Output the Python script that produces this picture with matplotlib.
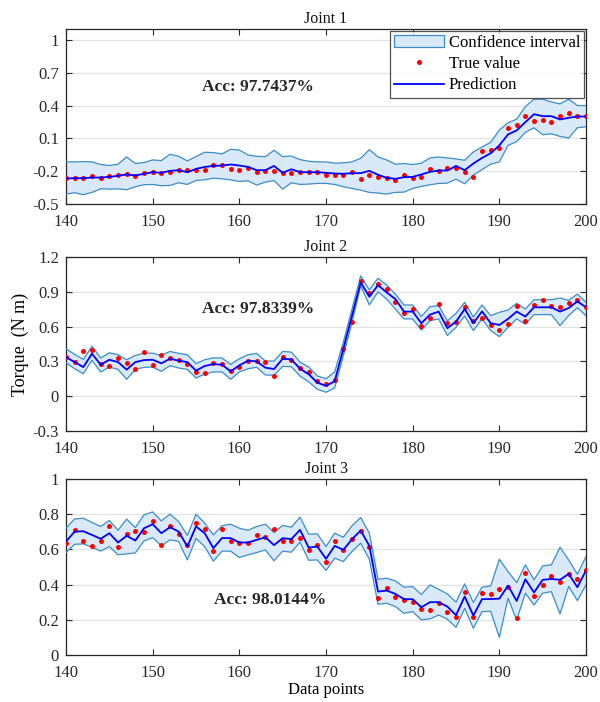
import numpy as np
import matplotlib
matplotlib.use("Agg")
import matplotlib.pyplot as plt
from matplotlib.patches import Patch
from matplotlib.lines import Line2D

plt.rcParams['font.family'] = ['Liberation Serif', 'DejaVu Serif']
plt.rcParams['mathtext.fontset'] = 'stix'

x = np.arange(140, 201)

titles = ["Joint 1", "Joint 2", "Joint 3"]
acc_texts = ["Acc: 97.7437%", "Acc: 97.8339%", "Acc: 98.0144%"]

j1_true = [-0.260,-0.260,-0.258,-0.245,-0.258,-0.245,-0.236,-0.227,-0.245,-0.220,
 -0.210,-0.215,-0.206,-0.188,-0.185,-0.185,-0.185,-0.145,-0.142,-0.180,
 -0.185,-0.173,-0.206,-0.200,-0.197,-0.220,-0.215,-0.210,-0.212,-0.210,
 -0.232,
 -0.239,-0.233,-0.203,-0.273,-0.239,-0.252,-0.264,-0.285,-0.239,-0.258,
 -0.255,-0.182,-0.194,-0.170,-0.167,-0.212,-0.252,-0.018,-0.003,0.012,
 0.194,0.224,0.303,0.255,0.267,0.248,0.309,0.330,0.303,0.300]
j1_pred = [-0.267,-0.264,-0.264,-0.258,-0.258,-0.252,-0.242,-0.230,-0.239,-0.224,
 -0.209,-0.215,-0.197,-0.191,-0.209,-0.179,-0.161,-0.152,-0.148,-0.139,
 -0.148,-0.161,-0.191,-0.191,-0.152,-0.215,-0.182,-0.209,-0.209,-0.209,
 -0.215,
 -0.221,-0.224,-0.218,-0.218,-0.197,-0.233,-0.261,-0.270,-0.255,-0.252,
 -0.230,-0.206,-0.194,-0.194,-0.152,-0.191,-0.130,-0.079,-0.036,0.036,
 0.136,0.173,0.248,0.321,0.303,0.303,0.273,0.288,0.300,0.300]
j1_upper = [-0.115,-0.115,-0.112,-0.115,-0.139,-0.148,-0.136,-0.070,-0.130,-0.121,
 -0.097,-0.103,-0.045,-0.064,-0.106,-0.067,-0.027,-0.030,-0.042,0.000,
 -0.006,-0.052,-0.064,-0.067,-0.009,-0.067,-0.061,-0.094,-0.109,-0.115,
 -0.115,
 -0.127,-0.124,-0.115,-0.082,-0.003,-0.070,-0.097,-0.136,-0.130,-0.139,
 -0.127,-0.079,-0.070,-0.079,-0.088,-0.100,-0.024,0.021,0.064,0.176,
 0.242,0.276,0.391,0.458,0.458,0.433,0.415,0.458,0.400,0.400]
j1_lower = [-0.409,-0.397,-0.415,-0.394,-0.361,-0.364,-0.361,-0.370,-0.342,-0.324,
 -0.321,-0.333,-0.330,-0.306,-0.321,-0.285,-0.279,-0.264,-0.270,-0.279,
 -0.294,-0.288,-0.327,-0.300,-0.285,-0.364,-0.306,-0.321,-0.318,-0.312,
 -0.312,
 -0.321,-0.342,-0.358,-0.373,-0.394,-0.400,-0.409,-0.394,-0.391,-0.358,
 -0.339,-0.324,-0.312,-0.309,-0.273,-0.315,-0.236,-0.185,-0.136,-0.115,
 0.036,0.070,0.155,0.197,0.133,0.142,0.118,0.103,0.197,0.206]

j2_true = [0.334,0.291,0.386,0.397,0.277,0.263,0.329,0.283,0.234,0.383,
 0.271,0.351,0.331,0.309,0.274,0.206,0.203,0.283,0.280,0.214,
 0.254,0.303,0.300,0.297,0.171,0.340,0.311,0.246,0.206,0.131,
 0.103,
 0.137,0.409,0.640,0.989,0.886,0.966,0.920,0.811,0.714,0.749,
 0.603,0.677,0.794,0.629,0.640,0.771,0.649,0.677,0.611,0.574,
 0.620,0.774,0.651,0.789,0.829,0.780,0.771,0.803,0.826,0.766]
j2_pred = [0.337,0.294,0.251,0.366,0.271,0.314,0.294,0.229,0.294,0.311,
 0.314,0.283,0.323,0.306,0.294,0.220,0.260,0.277,0.271,0.214,
 0.266,0.306,0.300,0.246,0.234,0.323,0.317,0.237,0.189,0.117,
 0.089,
 0.129,0.409,0.694,0.980,0.857,0.957,0.894,0.837,0.729,0.729,
 0.629,0.703,0.729,0.586,0.643,0.751,0.629,0.731,0.629,0.614,
 0.666,0.729,0.686,0.766,0.766,0.766,0.729,0.760,0.817,0.766]
j2_upper = [0.409,0.360,0.317,0.431,0.329,0.374,0.357,0.314,0.351,0.371,
 0.371,0.351,0.386,0.369,0.357,0.280,0.314,0.331,0.329,0.274,
 0.323,0.357,0.369,0.303,0.303,0.386,0.380,0.294,0.251,0.174,
 0.151,
 0.209,0.466,0.751,1.037,0.917,1.017,0.957,0.880,0.786,0.786,
 0.686,0.771,0.780,0.649,0.714,0.809,0.683,0.786,0.694,0.723,
 0.743,0.800,0.751,0.831,0.831,0.831,0.846,0.826,0.880,0.809]
j2_lower = [0.289,0.237,0.194,0.309,0.209,0.251,0.231,0.146,0.231,0.249,
 0.251,0.214,0.263,0.243,0.231,0.157,0.191,0.209,0.209,0.146,
 0.209,0.237,0.249,0.183,0.180,0.257,0.254,0.174,0.123,0.060,
 0.034,
 0.071,0.351,0.637,0.951,0.786,0.900,0.837,0.751,0.666,0.666,
 0.569,0.651,0.666,0.523,0.594,0.691,0.566,0.666,0.566,0.514,
 0.594,0.666,0.620,0.703,0.703,0.703,0.609,0.694,0.763,0.694]

j3_true = [0.635,0.711,0.650,0.618,0.645,0.734,0.616,0.686,0.705,0.696,
 0.762,0.624,0.730,0.688,0.626,0.749,0.718,0.588,0.715,0.650,
 0.639,0.635,0.684,0.671,0.715,0.650,0.650,0.664,0.597,0.626,
 0.531,
 0.650,0.597,0.658,0.707,0.612,0.322,0.379,0.332,0.313,0.303,
 0.262,0.256,0.294,0.246,0.218,0.355,0.218,0.351,0.345,0.373,
 0.389,0.209,0.463,0.336,0.396,0.449,0.417,0.461,0.434,0.480]
j3_pred = [0.645,0.701,0.703,0.682,0.660,0.692,0.639,0.677,0.650,0.720,
 0.743,0.692,0.726,0.701,0.616,0.730,0.692,0.607,0.664,0.664,
 0.639,0.639,0.654,0.669,0.624,0.664,0.658,0.711,0.610,0.616,
 0.546,
 0.620,0.597,0.658,0.707,0.620,0.360,0.366,0.347,0.317,0.317,
 0.271,0.300,0.300,0.275,0.226,0.332,0.224,0.317,0.318,0.320,
 0.394,0.307,0.430,0.355,0.427,0.432,0.427,0.461,0.385,0.480]
j3_upper = [0.720,0.773,0.777,0.753,0.730,0.764,0.709,0.772,0.724,0.796,
 0.813,0.762,0.800,0.758,0.679,0.800,0.749,0.682,0.734,0.743,
 0.720,0.709,0.730,0.743,0.696,0.736,0.726,0.783,0.686,0.688,
 0.616,
 0.692,0.669,0.734,0.781,0.692,0.430,0.436,0.421,0.385,0.389,
 0.343,0.398,0.373,0.347,0.300,0.404,0.298,0.385,0.392,0.544,
 0.474,0.411,0.512,0.427,0.506,0.512,0.612,0.540,0.459,0.559]
j3_lower = [0.582,0.629,0.631,0.612,0.590,0.616,0.569,0.574,0.580,0.648,
 0.667,0.620,0.654,0.645,0.540,0.662,0.616,0.533,0.590,0.590,
 0.554,0.569,0.582,0.597,0.535,0.590,0.584,0.641,0.538,0.540,
 0.480,
 0.550,0.531,0.588,0.635,0.544,0.288,0.294,0.275,0.237,0.246,
 0.199,0.205,0.227,0.203,0.157,0.265,0.152,0.246,0.248,0.100,
 0.322,0.199,0.351,0.284,0.351,0.360,0.233,0.389,0.309,0.398]

xticks = [140, 150, 160, 170, 180, 190, 200]
y_ticks = [[-0.5, -0.2, 0.1, 0.4, 0.7, 1.0],
           [-0.3, 0.0, 0.3, 0.6, 0.9, 1.2],
           [0.0, 0.2, 0.4, 0.6, 0.8, 1.0]]
y_ticklabels = [["-0.5", "-0.2", "0.1", "0.4", "0.7", "1"],
                ["-0.3", "0", "0.3", "0.6", "0.9", "1.2"],
                ["0", "0.2", "0.4", "0.6", "0.8", "1"]]
ylims = [(-0.5, 1.1), (-0.3, 1.2), (0.0, 1.0)]
acc_pos = [(162.2, 0.57), (162.2, 0.75), (163.5, 0.31)]

trues = [j1_true, j2_true, j3_true]
preds = [j1_pred, j2_pred, j3_pred]
uppers = [j1_upper, j2_upper, j3_upper]
lowers = [j1_lower, j2_lower, j3_lower]

fill_col = '#dae9f8'
edge_col = '#3a8dc9'
spine_col = '#262626'

fig = plt.figure(figsize=(6.0, 7.02), dpi=100)
rects = [[0.11, 0.7094, 0.8667, 0.2493],
         [0.11, 0.3860, 0.8667, 0.2480],
         [0.11, 0.0670, 0.8667, 0.2507]]

for i in range(3):
    ax = fig.add_axes(rects[i])
    ax.fill_between(x, lowers[i], uppers[i], facecolor=fill_col, edgecolor='none', zorder=2)
    ax.plot(x, uppers[i], color=edge_col, lw=0.9, zorder=3)
    ax.plot(x, lowers[i], color=edge_col, lw=0.9, zorder=3)
    ax.plot(x, trues[i], 'o', color='#ff0000', markersize=3.6, markeredgewidth=0, zorder=4)
    ax.plot(x, preds[i], '-', color='#0000ff', lw=1.3, zorder=5)
    ax.set_xlim(140, 200)
    ax.set_ylim(*ylims[i])
    ax.set_xticks(xticks)
    ax.set_yticks(y_ticks[i])
    ax.set_yticklabels(y_ticklabels[i])
    ax.yaxis.grid(True, color='#e3e3e3', lw=0.9, zorder=0)
    ax.set_axisbelow(True)
    ax.tick_params(direction='in', top=True, right=True, length=4, width=0.8,
                   labelsize=12, colors=spine_col)
    ax.tick_params(axis='x', pad=7)
    ax.tick_params(axis='y', pad=5)
    for s in ax.spines.values():
        s.set_color(spine_col)
        s.set_linewidth(0.9)
    ax.set_title(titles[i], fontsize=11.5, pad=4, color='#111111')
    ax.text(acc_pos[i][0], acc_pos[i][1], acc_texts[i], fontsize=12.5,
            fontweight='bold', ha='center', va='center', color='#262626')
    if i == 0:
        handles = [Patch(facecolor=fill_col, edgecolor=edge_col, lw=0.9),
                   Line2D([], [], marker='o', color='#ff0000', ls='none',
                          markersize=3.6, markeredgewidth=0),
                   Line2D([], [], color='#0000ff', lw=1.3)]
        leg = ax.legend(handles, ["Confidence interval", "True value", "Prediction"],
                        loc='upper right', fontsize=12, frameon=True, fancybox=False,
                        borderaxespad=0.1, handlelength=3.0, handletextpad=0.3,
                        labelspacing=0.32, borderpad=0.25)
        leg.get_frame().set_edgecolor(spine_col)
        leg.get_frame().set_linewidth(0.9)
    if i == 1:
        ax.set_ylabel("Torque  (N m)", fontsize=13, labelpad=3)
    if i == 2:
        ax.set_xlabel("Data points", fontsize=12, labelpad=1)

fig.savefig("out.png", dpi=100)
